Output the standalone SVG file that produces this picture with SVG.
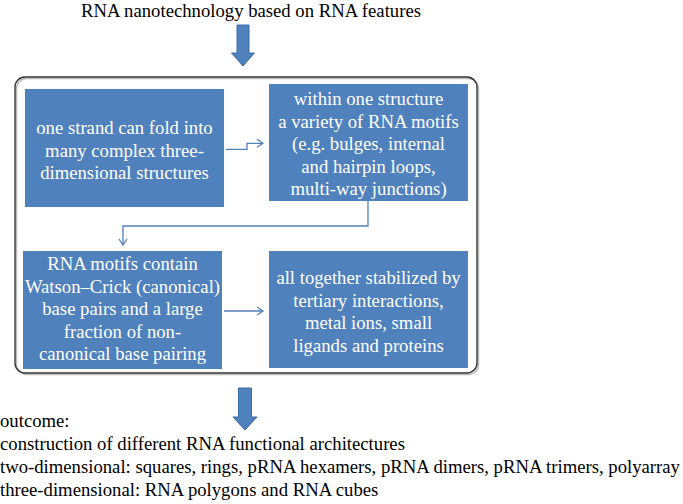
<svg xmlns="http://www.w3.org/2000/svg" width="683" height="504" viewBox="0 0 683 504">
<defs>
<style>
text{font-family:"Liberation Serif","Times New Roman",serif;font-size:18.7px}
.t{fill:#000}
.w{fill:#fff;text-anchor:middle}
.box{fill:#4f81bd}
.big{fill:#4f81bd;stroke:#3b6aa3;stroke-width:1}
.con{fill:none;stroke:#4f81bd;stroke-width:1.3}
</style>
<marker id="ah" markerWidth="10" markerHeight="10" refX="8" refY="5" orient="auto" markerUnits="userSpaceOnUse">
<path d="M2,1 L8,5 L2,9" fill="none" stroke="#4f81bd" stroke-width="1.3"/>
</marker>
</defs>
<rect width="683" height="504" fill="#fff"/>
<text id="title" class="t" x="251" y="17" text-anchor="middle">RNA nanotechnology based on RNA features</text>
<g id="arrow-top"><path class="big" d="M237,25 H249 V53 H254.5 L243,66 L231.5,53 H237 Z"/></g>
<g id="frame">
<rect x="16.5" y="78.5" width="462" height="296" rx="10" ry="10" fill="none" stroke="#bbb" stroke-width="1.5"/>
<rect x="15" y="77" width="462" height="296" rx="10" ry="10" fill="none" stroke="#333" stroke-width="1.4"/>
</g>
<g id="n1"><rect class="box" x="25" y="89" width="199" height="118"/>
<text class="w" x="124.5" y="134">one strand can fold into</text>
<text class="w" x="124.5" y="156.5">many complex three-</text>
<text class="w" x="124.5" y="179">dimensional structures</text></g>
<g id="n2"><rect class="box" x="269" y="84" width="199" height="117"/>
<text class="w" x="368.5" y="105">within one structure</text>
<text class="w" x="368.5" y="127.5">a variety of RNA motifs</text>
<text class="w" x="368.5" y="150">(e.g. bulges, internal</text>
<text class="w" x="368.5" y="172.5">and hairpin loops,</text>
<text class="w" x="368.5" y="195">multi-way junctions)</text></g>
<g id="n3"><rect class="box" x="23" y="251" width="199" height="118"/>
<text class="w" x="122.5" y="270">RNA motifs contain</text>
<text class="w" x="122.5" y="292.5">Watson–Crick (canonical)</text>
<text class="w" x="122.5" y="315">base pairs and a large</text>
<text class="w" x="122.5" y="337.5">fraction of non-</text>
<text class="w" x="122.5" y="360">canonical base pairing</text></g>
<g id="n4"><rect class="box" x="269" y="251" width="199" height="117"/>
<text class="w" x="368.5" y="284">all together stabilized by</text>
<text class="w" x="368.5" y="306.5">tertiary interactions,</text>
<text class="w" x="368.5" y="329">metal ions, small</text>
<text class="w" x="368.5" y="351.5">ligands and proteins</text></g>
<g id="connectors">
<path class="con" d="M226,149.3 H247 V143.3 H263" marker-end="url(#ah)"/>
<path class="con" d="M368,201 V226 H123 V245" marker-end="url(#ah)"/>
<path class="con" d="M224,311 H263" marker-end="url(#ah)"/>
</g>
<g id="arrow-bottom"><path class="big" d="M238.5,388 H251.5 V417 H257 L245,430 L233,417 H238.5 Z"/></g>
<g id="outcome">
<text class="t" x="0" y="427">outcome:</text>
<text class="t" x="0" y="450">construction of different RNA functional architectures</text>
<text class="t" x="0" y="473">two-dimensional: squares, rings, pRNA hexamers, pRNA dimers, pRNA trimers, polyarray</text>
<text class="t" x="0" y="496">three-dimensional: RNA polygons and RNA cubes</text>
</g>
</svg>
